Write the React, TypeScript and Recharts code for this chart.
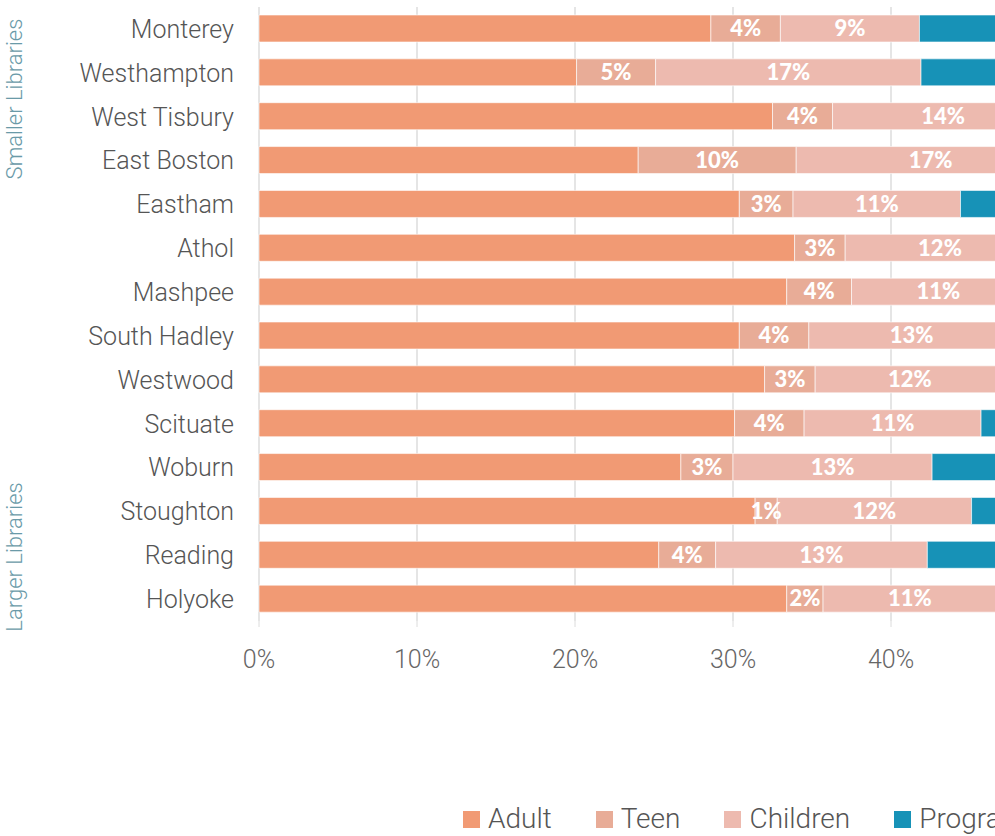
import React from 'react';
import { BarChart, Bar, XAxis, YAxis, CartesianGrid, LabelList } from 'recharts';

const categories = [
  'Monterey', 'Westhampton', 'West Tisbury', 'East Boston', 'Eastham', 'Athol', 'Mashpee',
  'South Hadley', 'Westwood', 'Scituate', 'Woburn', 'Stoughton', 'Reading', 'Holyoke',
];
const adult = [28.6, 20.1, 32.5, 24.0, 30.4, 33.9, 33.4, 30.4, 32.0, 30.1, 26.7, 31.4, 25.3, 33.4];
const teen = [4.4, 5.0, 3.8, 10.0, 3.4, 3.2, 4.1, 4.4, 3.2, 4.4, 3.3, 1.4, 3.6, 2.3];
const children = [8.8, 16.8, 14.0, 17.0, 10.6, 12.0, 11.0, 13.0, 12.0, 11.2, 12.6, 12.3, 13.4, 11.0];
// program share runs past the visible edge, so these are rough guesses
const program = [20, 22, 12, 10, 15, 14, 13, 14, 14, 15, 18, 16, 18, 14];
// only the ticks that fall inside the visible window
const xTicks = [0, 10, 20, 30, 40];
const groupLabels = ['Smaller Libraries', 'Larger Libraries'];

const SERIES = [
  { key: 'Adult', color: '#f19a74', labels: false },
  { key: 'Teen', color: '#e8ac97', labels: true },
  { key: 'Children', color: '#edbaaf', labels: true },
  { key: 'Program', color: '#1792b7', labels: false },
];

const data = categories.map((name, i) => ({
  name,
  Adult: adult[i],
  Teen: teen[i],
  Children: children[i],
  Program: program[i],
}));

const pct = (v: any) => `${Math.round(Number(v))}%`;

export default function App() {
  return (
    <div
      style={{
        position: 'absolute',
        left: 0,
        top: 0,
        width: 995,
        height: 836,
        overflow: 'hidden',
        background: '#fff',
        fontFamily: 'Roboto, sans-serif',
      }}
    >
      <BarChart
        width={1859}
        height={836}
        data={data}
        layout="vertical"
        margin={{ top: 7, right: 20, bottom: 155, left: 0 }}
        barSize={27}
      >
        <CartesianGrid horizontal={false} stroke="#dcdcdc" strokeWidth={1.5} />
        <XAxis
          type="number"
          domain={[0, 100]}
          ticks={xTicks}
          tickFormatter={(v) => `${v}%`}
          axisLine={false}
          tickLine={{ stroke: '#dcdcdc' }}
          tickSize={6}
          tickMargin={23}
          height={60}
          tick={{ fill: '#666', fontSize: 25, fontWeight: 300, fontFamily: 'Roboto' }}
        />
        <YAxis
          type="category"
          dataKey="name"
          width={259}
          axisLine={false}
          tickLine={false}
          tickSize={0}
          tickMargin={25}
          interval={0}
          tick={{ fill: '#555', fontSize: 25, fontWeight: 300, fontFamily: 'Roboto' }}
        />
        {SERIES.map((s) => (
          <Bar
            key={s.key}
            dataKey={s.key}
            stackId="a"
            fill={s.color}
            stroke="#fff"
            strokeOpacity={0.6}
            strokeWidth={1}
            isAnimationActive={false}
          >
            {s.labels && (
              <LabelList
                dataKey={s.key}
                position="center"
                formatter={pct}
                fill="#fff"
                style={{ fontFamily: 'Lato', fontWeight: 900, fontSize: 22 }}
              />
            )}
          </Bar>
        ))}
      </BarChart>

      <svg width={995} height={836} style={{ position: 'absolute', left: 0, top: 0, pointerEvents: 'none' }}>
        <text
          x={16}
          y={99}
          transform="rotate(-90 16 99)"
          textAnchor="middle"
          dominantBaseline="middle"
          fill="#6a9aa8"
          fontSize={22}
          fontWeight={300}
          fontFamily="Roboto"
        >
          {groupLabels[0]}
        </text>
        <text
          x={16}
          y={557}
          transform="rotate(-90 16 557)"
          textAnchor="middle"
          dominantBaseline="middle"
          fill="#6a9aa8"
          fontSize={22}
          fontWeight={300}
          fontFamily="Roboto"
        >
          {groupLabels[1]}
        </text>
      </svg>

      <div
        style={{
          position: 'absolute',
          left: 463,
          top: 806,
          display: 'flex',
          alignItems: 'center',
          whiteSpace: 'nowrap',
          gap: 44,
        }}
      >
        {SERIES.map((s) => (
          <div key={s.key} style={{ display: 'flex', alignItems: 'center' }}>
            <span style={{ width: 17, height: 17, background: s.color, display: 'inline-block', marginRight: 8 }} />
            <span style={{ fontSize: 28, lineHeight: '26px', fontWeight: 300, color: '#555' }}>{s.key}</span>
          </div>
        ))}
      </div>
    </div>
  );
}
